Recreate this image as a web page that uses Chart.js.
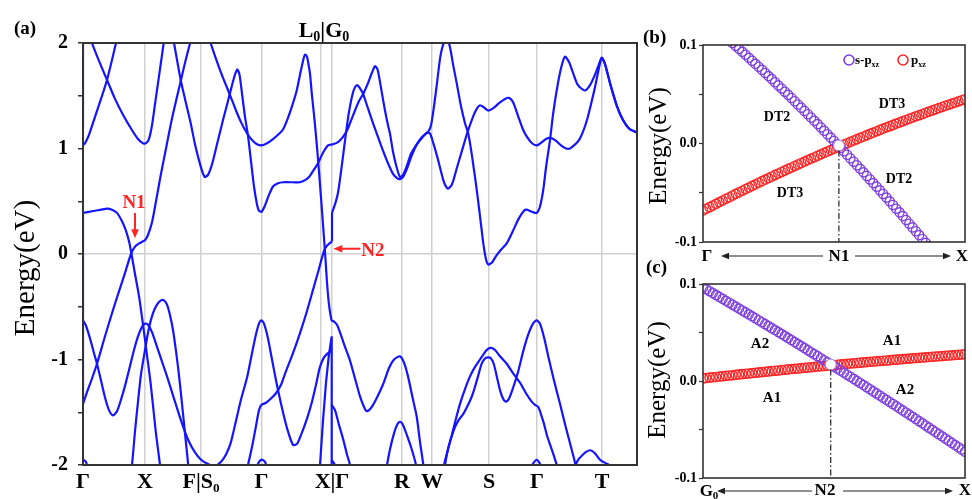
<!DOCTYPE html>
<html lang="en">
<head>
<meta charset="UTF-8">
<title>Band structure L0|G0</title>
<script src="https://cdn.jsdelivr.net/npm/chart.js"></script>
<style>
    body {
        margin: 0;
        background: #fff;
        width: 972px;
        height: 499px;
        position: relative;
        overflow: hidden;
    }
    canvas { position: absolute; }
    #chartA { left: 0; top: 0; }
    #chartB { left: 640px; top: 0; }
    #chartC { left: 640px; top: 260px; }
</style>
</head>
<body>
<canvas id="chartA" width="650" height="499"></canvas>
<canvas id="chartB" width="332" height="272"></canvas>
<canvas id="chartC" width="332" height="239"></canvas>

<script>
// ---- panel (a): k-path ticks ----
const kTicks = [0, 62, 118, 178.5, 238, 249, 319, 349, 406, 454, 519, 554];
const kLabels = ['Γ', 'X', 'F|S₀', 'Γ', '', 'X|Γ', 'R', 'W', 'S', 'Γ', 'T', ''];

// ---- panel (a): bands, [k, E(eV)] ----
const bandA = [[0,1.03],[2,1.05],[6,1.13],[12,1.30],[18,1.47],[24,1.65],[30,1.88],[33,2.0],[35,2.08]];
const bandB = [[6,2.12],[9,2.0],[16,1.83],[24,1.65],[32,1.47],[40,1.32],[48,1.19],[55,1.09],[60,1.05],[63,1.05],[66,1.09],[69,1.22],[72,1.42],[75,1.62],[78,1.82],[81,2.02],[82,2.1]];
const bandD = [[0,0.39],[6,0.40],[12,0.41],[18,0.42],[24,0.43],[29,0.42],[34,0.39],[39,0.31],[43,0.22],[46,0.12],[48.5,0.0],[52,-0.19],[56,-0.40],[61,-0.74],[64,-0.96],[67.7,-1.23],[72.7,-1.68],[77,-2.0],[78,-2.1]];
const bandE = [[0,-1.42],[4,-1.31],[9,-1.18],[14,-1.04],[22,-0.78],[31,-0.50],[41,-0.21],[48,0.0],[52,0.07],[56,0.10],[60,0.12],[62,0.13],[65,0.18],[69,0.30],[73,0.50],[78,0.76],[83,1.0],[88,1.24],[93,1.45],[98,1.65],[103,1.85],[108,2.03],[110,2.1]];
const bandF = [[0,-0.63],[3,-0.68],[7,-0.80],[11,-0.94],[14,-1.04],[18,-1.20],[22,-1.36],[26,-1.48],[30,-1.53],[34,-1.49],[38,-1.38],[42,-1.25],[46,-1.10],[51,-0.91],[55,-0.78],[59,-0.69],[62,-0.66],[65,-0.67],[69,-0.74],[74,-0.88],[79,-1.02],[84,-1.16],[90,-1.34],[96,-1.52],[101,-1.66],[106,-1.78],[112,-1.88],[118,-1.95],[125,-1.99],[132,-2.01],[138,-1.97],[143,-1.90],[147.7,-1.79],[153,-1.58],[158,-1.38],[164.3,-1.16],[169,-0.94],[173,-0.76],[176,-0.66],[178.5,-0.63],[181,-0.66],[185,-0.80],[189,-1.00],[193.7,-1.23],[199,-1.46],[204,-1.65],[210,-1.81],[214,-1.80],[219,-1.69],[224,-1.56],[229,-1.40],[233,-1.24],[237,-1.07],[241,-0.98],[245,-0.94],[248,-0.92]];
const bandG = [[47,-2.1],[49,-2.0],[52,-1.68],[55,-1.40],[58,-1.14],[62,-0.91],[66,-0.70],[70,-0.56],[74,-0.48],[78,-0.44],[81,-0.44],[84,-0.48],[87,-0.58],[90,-0.72],[93,-0.92],[96,-1.15],[99,-1.42],[102,-1.70],[105,-1.98],[106,-2.1]];
const bandC = [[89,2.1],[91,2.0],[97.7,1.65],[102,1.47],[107.7,1.24],[112,1.04],[117.7,0.83],[121.7,0.73],[125,0.75],[129,0.85],[134,1.04],[140,1.27],[145,1.45],[149,1.60],[152,1.70],[154.3,1.75],[156.5,1.70],[159,1.52],[162,1.30],[165,1.12],[168,0.88],[171,0.64],[174,0.47],[176,0.41],[178.5,0.40],[182,0.46],[186,0.56],[190,0.64],[195,0.67],[200,0.68],[210,0.68],[217,0.68],[222,0.70],[226,0.73],[231,0.80],[235,0.86],[240,0.96],[245,1.03],[250,1.04],[255,1.06],[260,1.11],[264,1.17],[267,1.24],[272,1.36],[276,1.45],[280.3,1.52],[285,1.62],[289,1.72],[292,1.78],[294.5,1.75],[297,1.63],[299,1.52],[302,1.36],[305,1.22],[307,1.14],[310,0.97],[313.7,0.82],[317,0.73],[320,0.75],[324,0.84],[328,0.95],[333.7,1.04],[339,1.11],[345.3,1.16],[348,1.22],[351,1.40],[354,1.62],[357,1.85],[360,1.98],[363.7,2.04],[367,1.96],[370,1.80],[373.7,1.62],[378,1.40],[382,1.24],[385.3,1.14],[389,0.93],[393.7,0.61],[397,0.36],[400.3,0.10],[403,-0.05],[405.3,-0.10],[409,-0.08],[413,-0.02],[418,0.04],[423.7,0.10],[430,0.22],[436,0.34],[441,0.41],[443.7,0.42],[449,0.40],[453.7,0.39],[457,0.45],[460.3,0.61],[463,0.82],[467,1.08],[470,1.32],[473.7,1.55],[478,1.76],[482,1.87],[486,1.82],[490.3,1.71],[495,1.60],[502,1.55],[507,1.60],[512,1.70],[516,1.80],[518.7,1.86],[522,1.80],[527,1.62],[534,1.40],[540,1.27],[546,1.19],[554,1.15]];
const bandP = [[126,2.1],[127.7,2.0],[133,1.85],[138,1.72],[143,1.60],[147.7,1.49],[153,1.36],[158,1.25],[164.3,1.14],[170,1.07],[174,1.04],[178.5,1.03],[184,1.05],[190,1.09],[195,1.13],[200,1.18],[205,1.29],[210,1.43],[213.7,1.55],[217,1.70],[220,1.83],[222,1.89],[224,1.87],[226,1.77],[227,1.71],[229,1.50],[231,1.32],[233,1.12],[235,0.90],[237,0.66],[239,0.41],[241,0.15],[242.5,-0.05],[244,-0.27],[246,-0.48],[248.7,-0.63],[251,-0.64],[254,-0.67],[258,-0.77],[262,-0.88],[267,-1.01],[272,-1.18],[277,-1.35],[281,-1.45],[283.7,-1.49],[288,-1.46],[293,-1.38],[300.3,-1.23],[306,-1.08],[311,-1.0],[317,-0.97],[321,-1.03],[325,-1.16],[330,-1.38],[333.7,-1.54],[337,-1.78],[340.3,-2.0],[341,-2.1]];
const bandH = [[163,-2.1],[165,-2.0],[169,-1.83],[173,-1.63],[176,-1.48],[178.5,-1.43],[183,-1.41],[188,-1.37],[193,-1.32],[198,-1.24],[203,-1.11],[210,-0.94],[217,-0.75],[224,-0.54],[230,-0.34],[236,-0.14],[241,0.03],[244,0.08],[246.5,0.10],[249,0.12]];
const bandR = [[249,0.39],[252,0.47],[255,0.58],[258,0.78],[261,1.0],[264,1.22],[267,1.40],[270,1.53],[272,1.58],[274.3,1.60],[277,1.57],[280,1.52],[285,1.38],[290,1.24],[295,1.11],[300,0.98],[305,0.86],[310,0.76],[314,0.72],[317,0.71],[320,0.73],[324,0.81],[329,0.94],[334,1.04],[339,1.10],[343.7,1.15],[347,1.14],[350,1.06],[354,0.93],[357,0.82],[361,0.68],[365,0.62],[369,0.66],[374,0.82],[379,0.98],[384,1.14],[390,1.30],[394,1.38],[397,1.41],[401,1.39],[405,1.36],[410,1.38],[416,1.43],[422,1.47],[426,1.48],[430,1.44],[435,1.31],[440,1.18],[444,1.11],[449,1.05],[454,1.03],[459,1.06],[463,1.09],[467,1.10],[472,1.08],[478,1.03],[483,1.00],[487,1.00],[491,1.03],[496,1.08],[500,1.16],[504,1.27],[508,1.42],[512,1.58],[515,1.72],[518.7,1.86],[522,1.80],[527,1.62],[534,1.40],[540,1.27],[546,1.19],[554,1.15]];
const bandK = [[248.7,-1.43],[252,-1.48],[256,-1.62],[260,-1.75],[264,-1.90],[267,-2.0],[268,-2.1]];
const bandL = [[302,-2.1],[304,-2.0],[307,-1.85],[311,-1.70],[314,-1.62],[317,-1.59],[320,-1.62],[324,-1.72],[329,-1.86],[333,-2.0],[334,-2.1]];
const bandM1 = [[359,-2.1],[361,-2.0],[365,-1.85],[369,-1.72],[372,-1.64],[376,-1.57],[380,-1.52],[384,-1.45],[388,-1.37],[391,-1.29],[395,-1.16],[398.7,-1.04],[402,-0.99],[405.3,-0.98],[408,-0.99],[411,-1.05],[414,-1.17],[417,-1.29],[420,-1.37],[423,-1.40],[426,-1.37],[430,-1.27],[435,-1.12],[440,-0.93],[445,-0.77],[450,-0.66],[453.7,-0.63],[457,-0.66],[461,-0.79],[466,-1.0],[471,-1.20],[477,-1.42],[483,-1.65],[488,-1.83],[492,-1.98],[493,-2.1]];
const bandM2 = [[361,-2.1],[362,-2.0],[365,-1.85],[368.7,-1.72],[373,-1.56],[377,-1.42],[382,-1.28],[387,-1.16],[392,-1.07],[397,-1.0],[402,-0.93],[405,-0.90],[408,-0.89],[412,-0.91],[417,-0.97],[423.7,-1.04],[430,-1.13],[437,-1.22],[443,-1.32],[448.7,-1.40],[452,-1.43],[455.3,-1.45],[458,-1.52],[461,-1.61],[464,-1.72],[469,-1.86],[473.7,-2.0],[475,-2.1]];
const humpStart = [[0,-1.95],[3,-1.97],[6,-2.1]];
const humpG2 = [[172,-2.1],[175,-1.99],[178.5,-1.95],[182,-1.97],[186,-2.1]];
const humpG3 = [[448,-2.1],[450,-1.99],[453.7,-1.95],[457,-1.99],[459,-2.1]];
const humpT = [[490,-2.1],[494,-1.97],[500,-1.90],[507,-1.86],[512,-1.89],[517,-1.95],[522,-1.98],[526,-2.0],[528,-2.1]];
// straight pieces and jumps at the path ends
const vertG1 = [[0,2.1],[0,1.2]];
const vertG2 = [[0,0.39],[0,-1.42]];
const jumpXG = [[249,0.12],[249,0.39]];
const bandJ = [[236,-2.1],[237,-2.0],[240,-1.58],[243,-1.22],[246,-0.95],[248.7,-0.78],[248.7,-2.1]];
const bandK2 = [[248.7,-1.95],[252,-2.0],[254,-2.1]];

// ---- panels (b) and (c): k index along the short cut, E(eV) ----
const kGrid = [0,1,2,3,4,5,6,7,8,9,10,11,12,13,14,15,16,17,18,19,20,21,22,23,24,25,26,27,28,29,30,31,32,33,34,35,36,37,38,39,40,41,42,43,44,45,46,47,48,49,50,51,52,53,54,55,56,57,58,59,60,61,62,63,64,65,66,67,68,69,70,71,72,73,74,75,76,77,78,79,80];
const purpleB = [null,null,null,null,null,null,null,null,
    0.105,0.102,0.0991,0.0961,0.0931,0.0901,0.087,0.084,0.0809,0.0779,0.0748,0.0716,0.0685,0.0654,0.0622,0.059,0.0559,0.0526,0.0494,0.0462,0.0429,0.0396,0.0364,0.0331,0.0297,0.0264,0.023,0.0197,0.0163,0.0129,0.0094,0.006,0.0026,-0.0009,-0.0044,-0.0079,-0.0114,-0.015,-0.0185,-0.0221,-0.0257,-0.0293,-0.0329,-0.0365,-0.0402,-0.0438,-0.0475,-0.0512,-0.0549,-0.0587,-0.0624,-0.0662,-0.0699,-0.0737,-0.0776,-0.0814,-0.0852,-0.0891,-0.093,-0.0969,-0.1008,-0.1047,
    null,null,null,null,null,null,null,null,null,null,null];
const redB = [-0.068,-0.0663,-0.0646,-0.0629,-0.0612,-0.0595,-0.0578,-0.0561,-0.0545,-0.0528,-0.0511,-0.0495,-0.0479,-0.0462,-0.0446,-0.043,-0.0414,-0.0398,-0.0382,-0.0366,-0.0351,-0.0335,-0.0319,-0.0304,-0.0289,-0.0273,-0.0258,-0.0243,-0.0228,-0.0213,-0.0198,-0.0183,-0.0168,-0.0153,-0.0139,-0.0124,-0.011,-0.0095,-0.0081,-0.0067,-0.0053,-0.0038,-0.0024,-0.001,0.0003,0.0017,0.0031,0.0044,0.0058,0.0071,0.0085,0.0098,0.0111,0.0125,0.0138,0.0151,0.0164,0.0176,0.0189,0.0202,0.0214,0.0227,0.0239,0.0252,0.0264,0.0276,0.0288,0.03,0.0312,0.0324,0.0336,0.0348,0.036,0.0371,0.0383,0.0394,0.0405,0.0417,0.0428,0.0439,0.045];
const crossB = [41.5, -0.002];
const purpleC = [0.0965,0.0945,0.0926,0.0906,0.0886,0.0867,0.0847,0.0827,0.0807,0.0787,0.0767,0.0747,0.0727,0.0707,0.0687,0.0667,0.0647,0.0627,0.0606,0.0586,0.0566,0.0545,0.0525,0.0504,0.0484,0.0463,0.0443,0.0422,0.0401,0.0381,0.036,0.0339,0.0318,0.0297,0.0277,0.0256,0.0235,0.0214,0.0193,0.0171,0.015,0.0129,0.0108,0.0087,0.0065,0.0044,0.0022,0.0001,-0.002,-0.0042,-0.0064,-0.0085,-0.0107,-0.0128,-0.015,-0.0172,-0.0194,-0.0216,-0.0237,-0.0259,-0.0281,-0.0303,-0.0325,-0.0347,-0.0369,-0.0392,-0.0414,-0.0436,-0.0458,-0.0481,-0.0503,-0.0525,-0.0548,-0.057,-0.0593,-0.0615,-0.0638,-0.0661,-0.0683,-0.0706,-0.0729];
const redC = [0.0027,0.0031,0.0035,0.0038,0.0042,0.0046,0.0049,0.0053,0.0057,0.006,0.0064,0.0068,0.0071,0.0075,0.0078,0.0082,0.0085,0.0089,0.0092,0.0096,0.0099,0.0103,0.0106,0.0109,0.0113,0.0116,0.012,0.0123,0.0126,0.0129,0.0133,0.0136,0.0139,0.0142,0.0146,0.0149,0.0152,0.0155,0.0158,0.0161,0.0165,0.0168,0.0171,0.0174,0.0177,0.018,0.0183,0.0186,0.0189,0.0192,0.0195,0.0198,0.0201,0.0203,0.0206,0.0209,0.0212,0.0215,0.0218,0.022,0.0223,0.0226,0.0229,0.0231,0.0234,0.0237,0.0239,0.0242,0.0245,0.0247,0.025,0.0253,0.0255,0.0258,0.026,0.0263,0.0265,0.0268,0.027,0.0273,0.0275];
const crossC = [39, 0.017];

const SERIF = '"Liberation Serif", "Times New Roman", serif';
const BLUE = '#1414ff';
const PURPLE = '#7d3ee0';
const RED = '#ff2424';
Chart.defaults.font.family = SERIF;
Chart.defaults.color = '#000';

// text with subscripts: parts = [[text, isSub], ...]
function drawRich(ctx, parts, x, y, size, align, color) {
    const subSize = Math.round(size * 0.65);
    let total = 0;
    const widths = parts.map(([t, s]) => {
        ctx.font = `bold ${s ? subSize : size}px ${SERIF}`;
        const w = ctx.measureText(t).width;
        total += w;
        return w;
    });
    let cx = align === 'center' ? x - total / 2 : (align === 'right' ? x - total : x);
    ctx.fillStyle = color || '#000';
    ctx.textAlign = 'left';
    ctx.textBaseline = 'alphabetic';
    parts.forEach(([t, s], i) => {
        ctx.font = `bold ${s ? subSize : size}px ${SERIF}`;
        ctx.fillText(t, cx, s ? y + size * 0.2 : y);
        cx += widths[i];
    });
}

function drawText(ctx, str, x, y, font, align, color) {
    ctx.font = font;
    ctx.fillStyle = color || '#000';
    ctx.textAlign = align || 'center';
    ctx.textBaseline = 'middle';
    ctx.fillText(str, x, y);
}

function drawArrow(ctx, x1, y1, x2, y2, head, color, width) {
    const a = Math.atan2(y2 - y1, x2 - x1);
    const c = Math.cos(a), s = Math.sin(a);
    ctx.strokeStyle = color;
    ctx.fillStyle = color;
    ctx.lineWidth = width;
    ctx.beginPath();
    ctx.moveTo(x1, y1);
    ctx.lineTo(x2 - c * head * 0.8, y2 - s * head * 0.8);
    ctx.stroke();
    ctx.beginPath();
    ctx.moveTo(x2, y2);
    ctx.lineTo(x2 - head * c + head * 0.42 * s, y2 - head * s - head * 0.42 * c);
    ctx.lineTo(x2 - head * c - head * 0.42 * s, y2 - head * s + head * 0.42 * c);
    ctx.closePath();
    ctx.fill();
}

function rotatedTitle(ctx, str, x, y, size) {
    ctx.save();
    ctx.translate(x, y);
    ctx.rotate(-Math.PI / 2);
    drawText(ctx, str, 0, 0, `${size}px ${SERIF}`, 'center', '#000');
    ctx.restore();
}

function frame(ctx, a, w) {
    ctx.strokeStyle = '#333';
    ctx.lineWidth = w;
    ctx.strokeRect(a.left, a.top, a.right - a.left, a.bottom - a.top);
}

// ---- panel (a) ----
const panelA = {
    id: 'panelA',
    afterDraw(chart) {
        const { ctx, chartArea: a, scales: { x, y } } = chart;
        ctx.save();
        frame(ctx, a, 2);
        drawRich(ctx, [['(a)', 0]], 14, 34, 19, 'left');
        drawRich(ctx, [['L', 0], ['0', 1], ['|G', 0], ['0', 1]], x.getPixelForValue(238) + 3, 37, 22, 'center');
        // N1 marker
        const n1x = x.getPixelForValue(52), n1y = y.getPixelForValue(0.15);
        drawRich(ctx, [['N1', 0]], n1x - 1, 208, 19, 'center', RED);
        drawArrow(ctx, n1x, 213, n1x, n1y, 9, RED, 2);
        // N2 marker
        const n2x = x.getPixelForValue(250.3), n2y = y.getPixelForValue(0.05);
        drawArrow(ctx, n2x + 27, n2y, n2x, n2y, 9, RED, 2);
        drawRich(ctx, [['N2', 0]], n2x + 28, n2y + 7, 19, 'left', RED);
        rotatedTitle(ctx, 'Energy(eV)', 26, 268, 29);
        ctx.restore();
    }
};

function lineSet(pts, tension) {
    return {
        data: pts.map(p => ({ x: p[0], y: p[1] })),
        borderColor: BLUE,
        borderWidth: 2.2,
        pointRadius: 0,
        tension: tension,
        fill: false
    };
}

const smoothBands = [bandA, bandB, bandC, bandD, bandE, bandF, bandG, bandH, bandP, bandR, bandK, bandL, bandM1, bandM2, humpStart, humpG2, humpG3, humpT];
const sharpBands = [vertG1, vertG2, jumpXG, bandJ, bandK2];
const datasetsA = smoothBands.map(b => lineSet(b, 0.25)).concat(sharpBands.map(b => lineSet(b, 0)));

new Chart(document.getElementById('chartA'), {
    type: 'line',
    data: { datasets: datasetsA },
    options: {
        responsive: false,
        animation: false,
        layout: { padding: { left: 0, top: 43, right: 13, bottom: 0 } },
        plugins: { legend: { display: false }, tooltip: { enabled: false } },
        scales: {
            x: {
                type: 'linear', min: 0, max: 554,
                afterBuildTicks: s => { s.ticks = kTicks.map(v => ({ value: v })); },
                afterFit: s => { s.height = 34; },
                ticks: {
                    autoSkip: false, maxRotation: 0, padding: 4, color: '#000',
                    font: { size: 22, weight: 'bold' },
                    callback: (v, i) => kLabels[i]
                },
                grid: {
                    color: c => (c.tick && (c.tick.value === 0 || c.tick.value === 554)) ? 'rgba(0,0,0,0)' : '#d0d0d0',
                    lineWidth: 1.5, drawTicks: false
                },
                border: { color: '#333', width: 2 }
            },
            y: {
                min: -2, max: 2,
                afterFit: s => { s.width = 83; },
                ticks: {
                    stepSize: 0.5, padding: 10, color: '#000',
                    font: { size: 20, weight: 'bold' },
                    callback: v => Number.isInteger(v) ? String(v) : ''
                },
                grid: {
                    color: c => (c.tick && c.tick.value === 0) ? '#d0d0d0' : 'rgba(0,0,0,0)',
                    lineWidth: 1.5, tickLength: 5, tickColor: '#333', tickWidth: 1.5
                },
                border: { color: '#333', width: 2 }
            }
        }
    },
    plugins: [panelA]
});

// ---- panels (b), (c) ----
function ringSet(vals, color) {
    return {
        data: kGrid.map((k, i) => ({ x: k, y: vals[i] })),
        showLine: false,
        pointStyle: 'circle',
        pointRadius: 4.6,
        pointBorderWidth: 1.4,
        pointBorderColor: color,
        pointBackgroundColor: 'rgba(255,255,255,0)'
    };
}

function dotSet(pt) {
    return {
        data: [{ x: pt[0], y: pt[1] }],
        showLine: false,
        pointRadius: 5.4,
        pointBorderWidth: 1,
        pointBorderColor: '#a58ae8',
        pointBackgroundColor: '#fff'
    };
}

function sideOptions(padTop, xHeight) {
    return {
        responsive: false,
        animation: false,
        layout: { padding: { left: 0, top: padTop, right: 7, bottom: 0 } },
        plugins: { legend: { display: false }, tooltip: { enabled: false } },
        scales: {
            x: {
                type: 'linear', min: 0, max: 80,
                afterFit: s => { s.height = xHeight; },
                ticks: { display: false },
                grid: { display: false, drawTicks: false },
                border: { display: false }
            },
            y: {
                min: -0.1, max: 0.1,
                afterFit: s => { s.width = 63; },
                ticks: {
                    stepSize: 0.05, padding: 2, color: '#000',
                    font: { size: 14, weight: 'bold' },
                    callback: v => Math.abs(v * 10 - Math.round(v * 10)) < 1e-6 ? (Math.abs(v) < 1e-9 ? '0.0' : v.toFixed(1)) : ''
                },
                grid: { drawOnChartArea: false, tickLength: 4, tickColor: '#333', tickWidth: 1.2 },
                border: { display: false }
            }
        }
    };
}

function dashDown(ctx, x, y, bottom) {
    ctx.save();
    ctx.strokeStyle = '#222';
    ctx.lineWidth = 1.2;
    ctx.setLineDash([6, 2.5, 1.5, 2.5]);
    ctx.beginPath();
    ctx.moveTo(x, y);
    ctx.lineTo(x, bottom);
    ctx.stroke();
    ctx.restore();
}

function ring(ctx, x, y, color) {
    ctx.strokeStyle = color;
    ctx.lineWidth = 1.6;
    ctx.beginPath();
    ctx.arc(x, y, 5, 0, Math.PI * 2);
    ctx.stroke();
}

const panelB = {
    id: 'panelB',
    afterDraw(chart) {
        const { ctx, chartArea: a, scales: { x, y } } = chart;
        ctx.save();
        frame(ctx, a, 1.6);
        dashDown(ctx, x.getPixelForValue(crossB[0]), y.getPixelForValue(crossB[1]) + 5, a.bottom);
        drawRich(ctx, [['(b)', 0]], 3, 43, 19, 'left');
        rotatedTitle(ctx, 'Energy(eV)', 19, 146, 25);
        const f = `bold 14px ${SERIF}`;
        drawText(ctx, 'DT2', 137, 117, f);
        drawText(ctx, 'DT3', 252, 104, f);
        drawText(ctx, 'DT3', 150, 193, f);
        drawText(ctx, 'DT2', 259, 179, f);
        ring(ctx, 209, 60, PURPLE);
        drawRich(ctx, [['s-p', 0], ['xz', 1]], 215, 64, 13, 'left');
        ring(ctx, 263, 60, RED);
        drawRich(ctx, [['p', 0], ['xz', 1]], 271, 64, 13, 'left');
        const lf = `bold 17px ${SERIF}`;
        drawText(ctx, 'Γ', 67, 257, lf);
        drawText(ctx, 'N1', 199, 257, lf);
        drawText(ctx, 'X', 322, 257, lf);
        drawArrow(ctx, 183, 256, 81, 256, 8, '#222', 1.2);
        drawArrow(ctx, 215, 256, 311, 256, 8, '#222', 1.2);
        ctx.restore();
    }
};

const panelC = {
    id: 'panelC',
    afterDraw(chart) {
        const { ctx, chartArea: a, scales: { x, y } } = chart;
        ctx.save();
        frame(ctx, a, 1.6);
        dashDown(ctx, x.getPixelForValue(crossC[0]), y.getPixelForValue(crossC[1]) + 5, a.bottom);
        drawRich(ctx, [['(c)', 0]], 6, 13, 19, 'left');
        rotatedTitle(ctx, 'Energy(eV)', 18, 120, 25);
        const f = `bold 15px ${SERIF}`;
        drawText(ctx, 'A2', 120, 84, f);
        drawText(ctx, 'A1', 252, 81, f);
        drawText(ctx, 'A1', 132, 138, f);
        drawText(ctx, 'A2', 265, 130, f);
        drawRich(ctx, [['G', 0], ['0', 1]], 69, 236, 17, 'center');
        const lf = `bold 17px ${SERIF}`;
        drawText(ctx, 'N2', 185, 231, lf);
        drawText(ctx, 'X', 325, 231, lf);
        drawArrow(ctx, 172, 231, 77, 231, 8, '#222', 1.2);
        drawArrow(ctx, 203, 231, 313, 231, 8, '#222', 1.2);
        ctx.restore();
    }
};

new Chart(document.getElementById('chartB'), {
    type: 'scatter',
    data: { datasets: [dotSet(crossB), ringSet(purpleB, PURPLE), ringSet(redB, RED)] },
    options: sideOptions(45, 30),
    plugins: [panelB]
});

new Chart(document.getElementById('chartC'), {
    type: 'scatter',
    data: { datasets: [dotSet(crossC), ringSet(purpleC, PURPLE), ringSet(redC, RED)] },
    options: sideOptions(24, 21),
    plugins: [panelC]
});
</script>
</body>
</html>
